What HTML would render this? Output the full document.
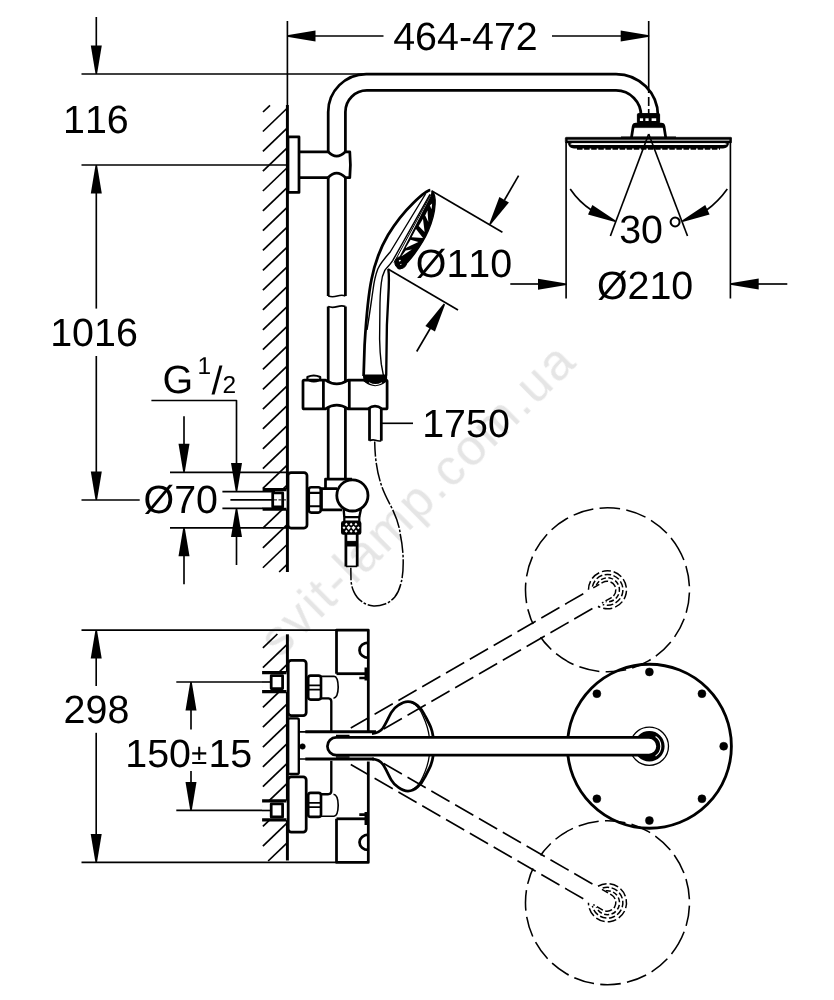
<!DOCTYPE html>
<html lang="en"><head><meta charset="utf-8"><title>Shower system dimensions</title>
<style>
html,body{margin:0;padding:0;background:#fff;}
body{width:834px;height:1000px;overflow:hidden;}
svg{display:block;}
svg *{vector-effect:none;}
svg line,svg path,svg rect,svg circle,svg ellipse,svg polyline{fill:none;stroke:#000;stroke-linecap:butt;stroke-linejoin:round;}
svg text{font-family:"Liberation Sans",sans-serif;fill:#000;stroke:none;font-kerning:none;text-rendering:geometricPrecision;will-change:opacity;}
svg .f{fill:#000;}
svg .w{fill:#fff;}
</style></head><body>
<svg width="834" height="1000" viewBox="0 0 834 1000">
<rect x="0" y="0" width="834" height="1000" style="fill:#fff;stroke:none"/>
<text x="0" y="0" font-size="50.5" letter-spacing="2.45" transform="translate(280,659) rotate(-44.7)" style="fill:#e5e5e5">svit-lamp.com.ua</text>
<line x1="270.00" y1="105.30" x2="263.00" y2="112.00" stroke-width="1.7" />
<line x1="287.40" y1="108.00" x2="262.90" y2="131.50" stroke-width="1.7" />
<line x1="287.40" y1="127.83" x2="262.90" y2="151.33" stroke-width="1.7" />
<line x1="287.40" y1="147.66" x2="262.90" y2="171.16" stroke-width="1.7" />
<line x1="287.40" y1="167.49" x2="262.90" y2="190.99" stroke-width="1.7" />
<line x1="287.40" y1="187.32" x2="262.90" y2="210.82" stroke-width="1.7" />
<line x1="287.40" y1="207.15" x2="262.90" y2="230.65" stroke-width="1.7" />
<line x1="287.40" y1="226.98" x2="262.90" y2="250.48" stroke-width="1.7" />
<line x1="287.40" y1="246.81" x2="262.90" y2="270.31" stroke-width="1.7" />
<line x1="287.40" y1="266.64" x2="262.90" y2="290.14" stroke-width="1.7" />
<line x1="287.40" y1="286.47" x2="262.90" y2="309.97" stroke-width="1.7" />
<line x1="287.40" y1="306.30" x2="262.90" y2="329.80" stroke-width="1.7" />
<line x1="287.40" y1="326.13" x2="262.90" y2="349.63" stroke-width="1.7" />
<line x1="287.40" y1="345.96" x2="262.90" y2="369.46" stroke-width="1.7" />
<line x1="287.40" y1="365.79" x2="262.90" y2="389.29" stroke-width="1.7" />
<line x1="287.40" y1="385.62" x2="262.90" y2="409.12" stroke-width="1.7" />
<line x1="287.40" y1="405.45" x2="262.90" y2="428.95" stroke-width="1.7" />
<line x1="287.40" y1="425.28" x2="262.90" y2="448.78" stroke-width="1.7" />
<line x1="287.40" y1="445.11" x2="262.90" y2="468.61" stroke-width="1.7" />
<line x1="287.40" y1="464.94" x2="262.90" y2="488.44" stroke-width="1.7" />
<line x1="287.40" y1="484.77" x2="262.90" y2="508.27" stroke-width="1.7" />
<line x1="287.40" y1="504.60" x2="262.90" y2="528.10" stroke-width="1.7" />
<line x1="287.40" y1="524.43" x2="262.90" y2="547.93" stroke-width="1.7" />
<line x1="287.40" y1="544.26" x2="262.90" y2="567.76" stroke-width="1.7" />
<line x1="287.40" y1="564.09" x2="279.15" y2="572.00" stroke-width="1.7" />
<line x1="287.40" y1="21.00" x2="287.40" y2="105.00" stroke-width="1.65" />
<line x1="287.40" y1="105.00" x2="287.40" y2="572.00" stroke-width="2.95" />
<line x1="81.50" y1="74.00" x2="366.00" y2="74.00" stroke-width="1.65" />
<line x1="96.30" y1="17.00" x2="96.30" y2="60.00" stroke-width="1.65" />
<polygon points="95.55,74.00 90.80,45.50 101.80,45.50 97.05,74.00" fill="#000" stroke="none"/>
<text x="63.00" y="133.30" font-size="39.4" >116</text>
<line x1="81.50" y1="165.00" x2="287.40" y2="165.00" stroke-width="1.65" />
<polygon points="97.05,165.00 101.80,193.50 90.80,193.50 95.55,165.00" fill="#000" stroke="none"/>
<line x1="96.30" y1="190.00" x2="96.30" y2="308.60" stroke-width="1.65" />
<text x="50.20" y="346.20" font-size="39.4" >1016</text>
<line x1="96.30" y1="356.00" x2="96.30" y2="475.00" stroke-width="1.65" />
<polygon points="95.55,500.00 90.80,471.50 101.80,471.50 97.05,500.00" fill="#000" stroke="none"/>
<line x1="81.50" y1="500.00" x2="139.70" y2="500.00" stroke-width="1.65" />
<polygon points="287.00,35.25 315.50,30.50 315.50,41.50 287.00,36.75" fill="#000" stroke="none"/>
<line x1="312.40" y1="36.00" x2="383.50" y2="36.00" stroke-width="1.65" />
<text x="393.20" y="49.80" font-size="39.4" >464-472</text>
<line x1="552.00" y1="36.00" x2="625.00" y2="36.00" stroke-width="1.65" />
<polygon points="649.20,36.75 620.70,41.50 620.70,30.50 649.20,35.25" fill="#000" stroke="none"/>
<line x1="648.70" y1="21.00" x2="648.70" y2="93.00" stroke-width="1.65" />
<line x1="648.70" y1="97.00" x2="648.70" y2="116.00" stroke-width="1.65" stroke-dasharray="9 3"/>
<path d="M328.2,153 V112 A38,38 0 0 1 366.2,74 H616 A42,42 0 0 1 658,116" stroke-width="2.75" />
<path d="M345.4,153 V112 A21.5,21.5 0 0 1 366.9,90.4 H616 A25,25 0 0 1 641,116" stroke-width="2.75" />
<rect x="288.00" y="136.90" width="11.00" height="55.50" rx="0" stroke-width="2.75" />
<path d="M299.2,151.8 H328.2 M299.2,177.5 H328.2" stroke-width="2.75" />
<path d="M328.2,151.8 Q336.5,160.5 345.4,151.8 H349.8 Q351,164.6 349.8,177.5 H345.4 Q336.5,168.8 328.2,177.5" stroke-width="2.75" />
<path d="M328.2,177.5 V296 M345.4,177.5 V296" stroke-width="2.75" />
<path d="M328.2,296 q4,1.5 9,0 t8.2,0" stroke-width="1.65" />
<path d="M328.2,306.6 q4,1.5 9,0 t8.2,0" stroke-width="1.65" />
<path d="M328.2,306.6 V381 M345.4,306.6 V381" stroke-width="2.75" />
<path d="M328.2,408 V480 M345.4,408 V480" stroke-width="2.75" />
<path d="M303,381.3 Q303,380.1 304.2,380.1 H325.5 Q336.8,387.6 348,380.1 H364 Q375,387 386,380.1 Q387.1,380.1 387.1,381.3 V407.7 Q387.1,408.9 386,408.9 H382 Q375,403.5 368,408.9 H348 Q336.8,401.4 325.5,408.9 H304.2 Q303,408.9 303,407.7 Z" stroke-width="2.75" />
<path d="M323.4,380.1 V408.9 M349.3,380.1 V408.9" stroke-width="2.75" />
<path d="M307.4,380 V377 Q313.7,374 320.2,377 V380" stroke-width="2.15" />
<path d="M309,380.5 Q313.7,383 319,380.5" stroke-width="1.65" />
<path d="M369.5,408 V440.8 M381.3,408 V440.8" stroke-width="2.75" />
<path d="M369.5,440.8 q3,-1.5 6,-0.5 t5.8,0.5" stroke-width="1.65" />
<line x1="381.30" y1="423.30" x2="413.00" y2="423.30" stroke-width="1.65" />
<text x="422.20" y="437.00" font-size="39.4" >1750</text>
<path d="M374.7,441.5 C375,462 378,475 381.3,485 C385,496 389,502 392.7,509.8 C397,519 399.5,527 400.3,534.5 C402.5,545 403.3,555 403.2,563 C403.2,571 402.5,577 401.3,582 C400,588 398,593 394.6,597.3 C391,601 388,603 385,604 C381,605.5 377,606 373.7,605.9 C369,605.5 365,604 362.3,602 C358,599 355.5,595.5 353.8,591.6 C352,588 351.3,584 351,580.2 L350.8,567.8" stroke-width="1.5" stroke-dasharray="19 1.8 2.6 1.8" stroke-dashoffset="4"/>
<path d="M430.3,190.2 C427,190.5 420,196.5 413.3,203 C404,212 396,222 388,235 C381,247 375,262 371.6,279 C368,296 365.5,330 364.6,345 L363.6,376" stroke-width="2.75" />
<path d="M425.5,194 L390.2,252 C385,258 380.5,263 377.8,269 C375.5,275 374,282 373,290 C371.5,300 369.5,315 367,330" stroke-width="1.4025" />
<path d="M430,194.4 L392.7,260.6 C389,266 386.5,268 384.8,270.4 C382.5,275 381.5,279 381.3,283 C380.2,292 379.9,302 379.9,311 L379.6,339 C379.8,350 380.5,358 381.3,364.2 L383.4,375.4" stroke-width="1.4025" />
<path d="M431,194.3 L394,262.6" stroke-width="1" />
<path d="M388.3,269 C389.2,275 389,285 388.3,297 L386.9,325 L386.2,375.4" stroke-width="2.35" />
<path d="M363.6,375.2 H386.4 L386.3,381 Q375,389.8 364.3,381 Z" class="f" stroke-width="1.5"/>
<path d="M369,382.6 Q375.5,386.6 382,382.6" stroke-width="1.1" style="stroke:#fff"/>
<path d="M432,192 C434.3,192.5 435.5,198 435.1,204 C434.7,212 431.7,223 428.2,231 C424.2,240 419.2,247.5 414.7,253.5 C410.2,259.5 405.2,265 401.7,268 C399.5,269.5 397.5,268.5 397,266 L397.3,262.5 L431.6,195.5 Z" class="f" stroke-width="1.4"/>
<polygon points="429.9,205.5 432.1,203.4 431.6,209.2" style="fill:#fff;stroke:none"/>
<polygon points="427.5,210.6 425.2,215.5 428.3,221.9" style="fill:#fff;stroke:none"/>
<polygon points="423.0,218.7 418.7,225.9 424.6,232.1" style="fill:#fff;stroke:none"/>
<polygon points="416.0,229.0 411.6,237.2 423.0,238.1" style="fill:#fff;stroke:none"/>
<polygon points="410.6,239.8 405.6,248.1 418.4,242.1" style="fill:#fff;stroke:none"/>
<polygon points="405.7,250.5 401.2,256.4 411.8,249.4" style="fill:#fff;stroke:none"/>
<polygon points="399.3,259.2 397.6,261.8 401.5,260.9" style="fill:#fff;stroke:none"/>
<circle cx="400.7" cy="262.7" r="5.9" class="f" stroke-width="1"/>
<ellipse cx="399.8" cy="260.6" rx="1.1" ry="0.8" style="fill:#fff;stroke:none" transform="rotate(-35 399.8 260.6)"/>
<ellipse cx="400.8" cy="264.4" rx="0.9" ry="0.5" style="fill:#ddd;stroke:none" transform="rotate(-25 400.8 264.4)"/>
<line x1="431.50" y1="190.80" x2="502.40" y2="232.20" stroke-width="1.65" />
<line x1="388.00" y1="269.00" x2="458.00" y2="310.00" stroke-width="1.65" />
<line x1="518.60" y1="175.60" x2="504.50" y2="200.00" stroke-width="1.65" />
<polygon points="489.25,224.03 499.39,196.97 508.91,202.47 490.55,224.78" fill="#000" stroke="none"/>
<line x1="416.70" y1="351.50" x2="430.50" y2="328.00" stroke-width="1.65" />
<polygon points="445.05,304.38 434.91,331.43 425.39,325.93 443.75,303.62" fill="#000" stroke="none"/>
<text x="415.80" y="277.20" font-size="39.4" >Ø110</text>
<rect x="637.4" y="113.6" width="22.2" height="10" rx="1" class="f" stroke-width="1"/>
<rect x="639.9" y="118.3" width="3.2" height="2.7" style="fill:#fff;stroke:none"/>
<rect x="645.4" y="118.3" width="3.2" height="2.7" style="fill:#fff;stroke:none"/>
<rect x="651.6" y="118.3" width="4.6" height="2.7" style="fill:#fff;stroke:none"/>
<path d="M631.4,138 L633.2,126.5 Q633.6,124.2 636,124.2 H661.2 Q663.6,124.2 664,126.5 L665.8,138" class="w" stroke-width="2.75"/>
<rect x="634" y="124" width="29.4" height="3.6" class="f" stroke-width="0.5"/>
<line x1="621.00" y1="137.20" x2="676.00" y2="137.20" stroke-width="1.2" />
<rect x="565.3" y="137.3" width="166.4" height="5.6" rx="1" class="f" stroke-width="0.6"/>
<line x1="567.60" y1="140.20" x2="729.40" y2="140.20" stroke-width="0.9" style="stroke:#f4f4f4"/>
<path d="M569.6,143 Q570,146.6 574,146.7 H723 Q727,146.6 727.4,143" stroke-width="3.4" />
<line x1="570.60" y1="144.10" x2="726.40" y2="144.10" stroke-width="1.3" style="stroke:#fff"/>
<path d="M577,148.7 H720" stroke-width="2.15" stroke-dasharray="5.5 1.6"/>
<line x1="648.70" y1="134.00" x2="610.40" y2="236.00" stroke-width="1.65" />
<line x1="648.70" y1="134.00" x2="687.50" y2="236.00" stroke-width="1.65" />
<line x1="566.10" y1="142.00" x2="566.10" y2="298.50" stroke-width="1.65" />
<line x1="730.40" y1="142.00" x2="730.40" y2="298.50" stroke-width="1.65" />
<path d="M570.2,189 Q579,202 592,210.5" stroke-width="1.65" />
<polygon points="614.99,221.88 588.01,214.53 592.36,204.98 615.61,220.52" fill="#000" stroke="none"/>
<path d="M727.3,189 Q718,202 706,210.5" stroke-width="1.65" />
<polygon points="681.99,220.52 705.24,204.98 709.59,214.53 682.61,221.88" fill="#000" stroke="none"/>
<text x="619.20" y="243.20" font-size="39.4" >30</text>
<text x="667.20" y="243.60" font-size="39.4" >°</text>
<line x1="510.30" y1="284.00" x2="540.00" y2="284.00" stroke-width="1.65" />
<polygon points="566.50,285.05 538.00,289.80 538.00,278.80 566.50,283.55" fill="#000" stroke="none"/>
<line x1="756.00" y1="284.00" x2="787.30" y2="284.00" stroke-width="1.65" />
<polygon points="730.20,283.25 758.70,278.50 758.70,289.50 730.20,284.75" fill="#000" stroke="none"/>
<text x="596.90" y="298.70" font-size="39.4" >Ø210</text>
<text x="162.40" y="392.90" font-size="39.4" >G</text>
<text x="197.60" y="373.60" font-size="24.5" >1</text>
<text x="211.60" y="393.60" font-size="39.4" >/</text>
<text x="222.60" y="393.00" font-size="24.5" >2</text>
<path d="M151.4,400.5 H236.5 V465" stroke-width="1.65" />
<polygon points="235.75,491.60 231.00,463.10 242.00,463.10 237.25,491.60" fill="#000" stroke="none"/>
<line x1="184.00" y1="416.30" x2="184.00" y2="448.00" stroke-width="1.65" />
<polygon points="183.25,472.30 178.50,443.80 189.50,443.80 184.75,472.30" fill="#000" stroke="none"/>
<line x1="170.00" y1="472.30" x2="287.40" y2="472.30" stroke-width="1.65" />
<polygon points="237.25,508.40 242.00,536.90 231.00,536.90 235.75,508.40" fill="#000" stroke="none"/>
<line x1="236.50" y1="535.00" x2="236.50" y2="565.00" stroke-width="1.65" />
<line x1="170.00" y1="527.80" x2="287.40" y2="527.80" stroke-width="1.65" />
<polygon points="184.75,527.80 189.50,556.30 178.50,556.30 183.25,527.80" fill="#000" stroke="none"/>
<line x1="184.00" y1="555.00" x2="184.00" y2="584.30" stroke-width="1.65" />
<text x="143.50" y="513.20" font-size="39.4" >Ø70</text>
<rect x="262.6" y="489.4" width="24.5" height="20.1" style="fill:#fff;stroke:none"/>
<path d="M262.6,489.6 H286.5 M262.6,509.3 H286.5" stroke-width="3.1" />
<line x1="222.40" y1="491.60" x2="275.00" y2="491.60" stroke-width="1.65" />
<line x1="222.40" y1="508.40" x2="275.00" y2="508.40" stroke-width="1.65" />
<rect x="272.70" y="492.90" width="10.00" height="14.00" rx="0" stroke-width="2.75" />
<line x1="230.40" y1="499.90" x2="272.00" y2="499.90" stroke-width="1.65" />
<line x1="274.00" y1="499.90" x2="292.00" y2="499.90" stroke-width="1" stroke-dasharray="3 1.5"/>
<rect x="288" y="472.6" width="19" height="55.4" rx="3" class="w" stroke-width="2.75"/>
<rect x="308.8" y="487.2" width="11.9" height="25.4" rx="2.5" class="w" stroke-width="2.55"/>
<path d="M309,492.9 H320.5 M309,506.2 H320.5" stroke-width="2.15" />
<path d="M320.7,488.6 H337 M320.7,509.8 H342" stroke-width="2.75" />
<line x1="321.50" y1="488.60" x2="321.50" y2="509.80" stroke-width="2.75" />
<path d="M325.5,488 V479 H352" stroke-width="2.75" />
<circle cx="352.4" cy="495.4" r="15.6" class="w" stroke-width="2.8"/>
<path d="M343.6,509 L344.3,517 M361,509 L359.3,517" stroke-width="2.35" />
<rect x="344.30" y="517.00" width="15.00" height="4.50" rx="0" stroke-width="2.25" />
<rect x="341.8" y="521.8" width="18.8" height="12.2" rx="1.5" class="f" stroke-width="1.6"/>
<polygon points="344.8,524.3 346.3,522.8 347.8,524.3 346.3,525.8" style="fill:#fff;stroke:none"/>
<polygon points="349.6,524.3 351.1,522.8 352.6,524.3 351.1,525.8" style="fill:#fff;stroke:none"/>
<polygon points="354.4,524.3 355.9,522.8 357.4,524.3 355.9,525.8" style="fill:#fff;stroke:none"/>
<polygon points="346.59999999999997,527.8 348.7,525.6999999999999 350.8,527.8 348.7,529.9" style="fill:#fff;stroke:none"/>
<polygon points="351.4,527.8 353.5,525.6999999999999 355.6,527.8 353.5,529.9" style="fill:#fff;stroke:none"/>
<polygon points="342.5,527.8 344,526.3 345.5,527.8 344,529.3" style="fill:#fff;stroke:none"/>
<polygon points="356.8,527.8 358.3,526.3 359.8,527.8 358.3,529.3" style="fill:#fff;stroke:none"/>
<polygon points="344.8,531.3 346.3,529.8 347.8,531.3 346.3,532.8" style="fill:#fff;stroke:none"/>
<polygon points="349.6,531.3 351.1,529.8 352.6,531.3 351.1,532.8" style="fill:#fff;stroke:none"/>
<polygon points="354.4,531.3 355.9,529.8 357.4,531.3 355.9,532.8" style="fill:#fff;stroke:none"/>
<path d="M345.9,534 V566.4 M357.2,534 V566.4" stroke-width="2.75" />
<line x1="345.90" y1="566.40" x2="357.20" y2="566.40" stroke-width="1.65" />
<rect x="345.9" y="541.4" width="11.3" height="4.6" class="f" stroke-width="1"/>
<line x1="81.50" y1="630.10" x2="336.50" y2="630.10" stroke-width="1.65" />
<line x1="81.50" y1="862.40" x2="336.50" y2="862.40" stroke-width="1.65" />
<line x1="277.39" y1="634.00" x2="262.90" y2="647.90" stroke-width="1.7" />
<line x1="287.40" y1="644.23" x2="262.90" y2="667.73" stroke-width="1.7" />
<line x1="287.40" y1="664.06" x2="262.90" y2="687.56" stroke-width="1.7" />
<line x1="287.40" y1="683.89" x2="262.90" y2="707.39" stroke-width="1.7" />
<line x1="287.40" y1="703.72" x2="262.90" y2="727.22" stroke-width="1.7" />
<line x1="287.40" y1="723.55" x2="262.90" y2="747.05" stroke-width="1.7" />
<line x1="287.40" y1="743.38" x2="262.90" y2="766.88" stroke-width="1.7" />
<line x1="287.40" y1="763.21" x2="262.90" y2="786.71" stroke-width="1.7" />
<line x1="287.40" y1="783.04" x2="262.90" y2="806.54" stroke-width="1.7" />
<line x1="287.40" y1="802.87" x2="262.90" y2="826.37" stroke-width="1.7" />
<line x1="287.40" y1="822.70" x2="262.90" y2="846.20" stroke-width="1.7" />
<line x1="287.40" y1="842.53" x2="268.14" y2="861.00" stroke-width="1.7" />
<line x1="287.40" y1="634.30" x2="287.40" y2="860.50" stroke-width="2.95" />
<polygon points="96.95,630.10 101.70,658.60 90.70,658.60 95.45,630.10" fill="#000" stroke="none"/>
<line x1="96.20" y1="655.00" x2="96.20" y2="686.00" stroke-width="1.65" />
<text x="63.60" y="723.40" font-size="39.4" >298</text>
<line x1="96.20" y1="732.80" x2="96.20" y2="838.00" stroke-width="1.65" />
<polygon points="95.45,862.40 90.70,833.90 101.70,833.90 96.95,862.40" fill="#000" stroke="none"/>
<line x1="176.30" y1="682.00" x2="262.00" y2="682.00" stroke-width="1.65" />
<line x1="176.30" y1="810.40" x2="262.00" y2="810.40" stroke-width="1.65" />
<polygon points="191.75,682.00 196.50,710.50 185.50,710.50 190.25,682.00" fill="#000" stroke="none"/>
<line x1="191.00" y1="708.00" x2="191.00" y2="729.50" stroke-width="1.65" />
<text x="125.30" y="766.50" font-size="39.4" >150</text>
<text x="191.30" y="763.60" font-size="29" >±</text>
<text x="208.40" y="766.50" font-size="39.4" >15</text>
<line x1="191.00" y1="771.00" x2="191.00" y2="785.00" stroke-width="1.65" />
<polygon points="190.25,810.40 185.50,781.90 196.50,781.90 191.75,810.40" fill="#000" stroke="none"/>
<rect x="262.1" y="672.4" width="25" height="19.4" style="fill:#fff;stroke:none"/>
<path d="M262.1,672.6 H286.5 M262.1,691.6 H286.5" stroke-width="3.1" />
<rect x="271.20" y="675.60" width="11.40" height="13.00" rx="0" stroke-width="2.75" />
<line x1="262.00" y1="682.00" x2="271.00" y2="682.00" stroke-width="1.65" />
<rect x="288.2" y="660.4" width="18" height="55.2" rx="3" class="w" stroke-width="2.75"/>
<rect x="308.2" y="675.6" width="12.8" height="24" rx="2.5" class="w" stroke-width="2.65"/>
<path d="M308.5,685.4 H320.8 M308.5,689.6 H320.8" stroke-width="1.7" />
<path d="M321,676.3 H334 Q338,676.6 338.2,687.3 Q338,697.6 333.5,698.2" stroke-width="1.65" />
<path d="M321,698.3 H328.5 Q331.3,698.6 331.3,701.5 V731.8" stroke-width="2.35" />
<path d="M336.5,673.7 V630.1 H368.3 V731" stroke-width="2.75" />
<path d="M336.5,673.7 H365.8" stroke-width="2.8" />
<path d="M365.8,667.6 V680.5 M359.3,677.9 H365.8" stroke-width="2.55" />
<path d="M368.3,642.6 A8.8,7.6 0 0 0 368.3,657.8" stroke-width="2.75" />
<g transform="matrix(1 0 0 -1 0 1492.5)">
<rect x="262.1" y="672.4" width="25" height="19.4" style="fill:#fff;stroke:none"/>
<path d="M262.1,672.6 H286.5 M262.1,691.6 H286.5" stroke-width="3.1" />
<rect x="271.20" y="675.60" width="11.40" height="13.00" rx="0" stroke-width="2.75" />
<line x1="262.00" y1="682.00" x2="271.00" y2="682.00" stroke-width="1.65" />
<rect x="288.2" y="660.4" width="18" height="55.2" rx="3" class="w" stroke-width="2.75"/>
<rect x="308.2" y="675.6" width="12.8" height="24" rx="2.5" class="w" stroke-width="2.65"/>
<path d="M308.5,685.4 H320.8 M308.5,689.6 H320.8" stroke-width="1.7" />
<path d="M321,676.3 H334 Q338,676.6 338.2,687.3 Q338,697.6 333.5,698.2" stroke-width="1.65" />
<path d="M321,698.3 H328.5 Q331.3,698.6 331.3,701.5 V731.8" stroke-width="2.35" />
<path d="M336.5,673.7 V630.1 H368.3 V731" stroke-width="2.75" />
<path d="M336.5,673.7 H365.8" stroke-width="2.8" />
<path d="M365.8,667.6 V680.5 M359.3,677.9 H365.8" stroke-width="2.55" />
<path d="M368.3,642.6 A8.8,7.6 0 0 0 368.3,657.8" stroke-width="2.75" />
</g>
<rect x="288.2" y="718.4" width="10.6" height="55.6" rx="1.5" class="w" stroke-width="2.35"/>
<path d="M299,731.8 H306 M299,759 H306" stroke-width="1.65" />
<path d="M305.3,731.8 H376 M305.3,759 H374" stroke-width="2.95" />
<circle cx="302.5" cy="746.5" r="2.8" class="f" stroke-width="0.5"/>
<path d="M372,733.6 C377,733.2 380.5,731.5 383,728 C386,723.5 388.5,717.5 391.2,712.7 C393.5,708.8 395.8,706.8 398.4,705.2 C401.5,703 404.5,701.5 408,701.5 C411.5,701.5 414.8,703 417.6,705.5 C420.5,708 423,711.5 424.7,715.1 C427,719.5 429.2,723.5 430.7,727.1 C432,730.5 432.8,734 433.2,737" stroke-width="2.75" />
<path d="M411.5,702.5 C417,705 420.5,710 423,716 C426,722.5 428.3,729 429.3,737" stroke-width="1.32" />
<g transform="matrix(1 0 0 -1 0 1492.5)">
<path d="M372,733.6 C377,733.2 380.5,731.5 383,728 C386,723.5 388.5,717.5 391.2,712.7 C393.5,708.8 395.8,706.8 398.4,705.2 C401.5,703 404.5,701.5 408,701.5 C411.5,701.5 414.8,703 417.6,705.5 C420.5,708 423,711.5 424.7,715.1 C427,719.5 429.2,723.5 430.7,727.1 C432,730.5 432.8,734 433.2,737" stroke-width="2.75" />
<path d="M411.5,702.5 C417,705 420.5,710 423,716 C426,722.5 428.3,729 429.3,737" stroke-width="1.32" />
</g>
<path d="M336,735.5 H349.5 M336,757 H349.5" stroke-width="1.6" />
<g transform="rotate(-30 336.5 746.25)">
<circle cx="649.40" cy="746.25" r="82.00" stroke-width="1.55" stroke-dasharray="20.5 6.3" stroke-dashoffset="8"/>
<rect x="561" y="738.65" width="12" height="15.2" style="fill:#fff;stroke:none"/>
<path d="M358,737.55 H632" stroke-width="1.55" stroke-dasharray="21 6.5"/>
<path d="M386,754.95 H632" stroke-width="1.55" stroke-dasharray="21 6.5"/>
<path d="M638,737.55 H649 A8.7,8.7 0 0 1 649,754.95 H638" stroke-width="1.5" stroke-dasharray="7 2.5"/>
<path d="M632.95,736.75 A19,19 0 1 1 632.95,755.75" stroke-width="1.5" stroke-dasharray="9 3"/>
<path d="M637.96,735.95 A15.4,15.4 0 1 1 637.96,756.55" stroke-width="1.5" stroke-dasharray="6.5 2.5"/>
<path d="M642.01,736.79 A12,12 0 1 1 642.01,755.71" stroke-width="1.5" stroke-dasharray="5 2.5"/>
</g>
<g transform="rotate(30 336.5 746.25)">
<circle cx="649.40" cy="746.25" r="82.00" stroke-width="1.55" stroke-dasharray="20.5 6.3" stroke-dashoffset="8"/>
<rect x="561" y="738.65" width="12" height="15.2" style="fill:#fff;stroke:none"/>
<path d="M358,754.95 H632" stroke-width="1.55" stroke-dasharray="21 6.5"/>
<path d="M386,737.55 H632" stroke-width="1.55" stroke-dasharray="21 6.5"/>
<path d="M638,737.55 H649 A8.7,8.7 0 0 1 649,754.95 H638" stroke-width="1.5" stroke-dasharray="7 2.5"/>
<path d="M632.95,736.75 A19,19 0 1 1 632.95,755.75" stroke-width="1.5" stroke-dasharray="9 3"/>
<path d="M637.96,735.95 A15.4,15.4 0 1 1 637.96,756.55" stroke-width="1.5" stroke-dasharray="6.5 2.5"/>
<path d="M642.01,736.79 A12,12 0 1 1 642.01,755.71" stroke-width="1.5" stroke-dasharray="5 2.5"/>
</g>
<circle cx="649.40" cy="746.25" r="82.00" stroke-width="2.85" />
<circle cx="649.30" cy="746.25" r="19.20" stroke-width="1.3" />
<circle cx="649.3" cy="746.25" r="13.8" class="f" stroke-width="3"/>
<path d="M655.6,736.55 A11.6,11.6 0 0 1 655.6,755.95" stroke-width="1.1" style="stroke:#fff"/>
<path d="M649,737.4 H336.2 A8.8,8.8 0 0 0 336.2,755 H649 A8.6,8.8 0 0 0 649,737.4 Z" class="w" stroke-width="2.75"/>
<circle cx="596.86" cy="693.71" r="4" class="f" stroke-width="0.5"/>
<circle cx="649.40" cy="671.95" r="4" class="f" stroke-width="0.5"/>
<circle cx="701.94" cy="693.71" r="4" class="f" stroke-width="0.5"/>
<circle cx="723.70" cy="746.25" r="4" class="f" stroke-width="0.5"/>
<circle cx="701.94" cy="798.79" r="4" class="f" stroke-width="0.5"/>
<circle cx="649.40" cy="820.55" r="4" class="f" stroke-width="0.5"/>
<circle cx="596.86" cy="798.79" r="4" class="f" stroke-width="0.5"/>
</svg>
</body></html>
